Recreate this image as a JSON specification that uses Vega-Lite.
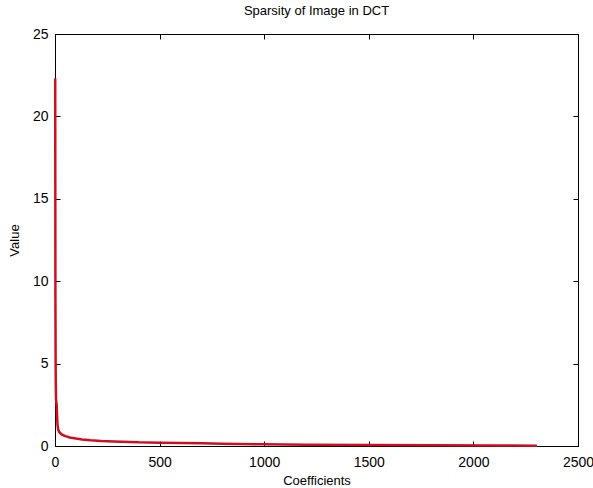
{
  "$schema": "https://vega.github.io/schema/vega-lite/v6.json",
  "autosize": "none",
  "padding": {"left": 55, "top": 34, "right": 15, "bottom": 42},
  "width": 523,
  "height": 412,
  "background": "white",
  "title": {"text": "Sparsity of Image in DCT", "font": "Liberation Sans", "fontSize": 13, "fontWeight": "normal", "color": "#000", "offset": 9},
  "config": {
    "view": {"stroke": "#000", "strokeWidth": 1},
    "axis": {"grid": false, "domain": false, "tickColor": "#000", "tickSize": -5, "labelFont": "Liberation Sans", "labelFontSize": 14, "labelColor": "#000", "titleFont": "Liberation Sans", "titleFontSize": 13, "titleFontWeight": "normal", "titleColor": "#000"}
  },
  "data": {"values": [
    {"c": 1, "v": 22.3}, {"c": 2, "v": 9}, {"c": 3, "v": 5}, {"c": 4, "v": 3.5}, {"c": 5, "v": 2.8},
    {"c": 8, "v": 2.5}, {"c": 10, "v": 1.8}, {"c": 12, "v": 1.3}, {"c": 15, "v": 1.0}, {"c": 20, "v": 0.85},
    {"c": 30, "v": 0.72}, {"c": 40, "v": 0.65}, {"c": 50, "v": 0.6}, {"c": 70, "v": 0.52}, {"c": 100, "v": 0.45},
    {"c": 130, "v": 0.4}, {"c": 170, "v": 0.35}, {"c": 220, "v": 0.31}, {"c": 280, "v": 0.28}, {"c": 320, "v": 0.26},
    {"c": 400, "v": 0.22}, {"c": 500, "v": 0.2}, {"c": 600, "v": 0.18}, {"c": 700, "v": 0.16}, {"c": 800, "v": 0.13},
    {"c": 1000, "v": 0.1}, {"c": 1200, "v": 0.08}, {"c": 1500, "v": 0.06}, {"c": 1800, "v": 0.045}, {"c": 2100, "v": 0.03},
    {"c": 2304, "v": 0.02}
  ]},
  "layer": [
    {
      "mark": {"type": "line", "color": "#cc1020", "strokeWidth": 2.5},
      "encoding": {
        "x": {"field": "c", "type": "quantitative", "scale": {"domain": [0, 2500], "nice": false}, "axis": {"title": "Coefficients", "format": "d", "values": [0, 500, 1000, 1500, 2000, 2500], "labelPadding": 14, "titlePadding": 5, "labelFlush": false}},
        "y": {"field": "v", "type": "quantitative", "scale": {"domain": [0, 25], "nice": false}, "axis": {"title": "Value", "format": "d", "values": [0, 5, 10, 15, 20, 25], "labelPadding": 12, "titlePadding": 11, "labelFlush": false}}
      }
    },
    {
      "mark": {"type": "line", "strokeOpacity": 0},
      "encoding": {
        "x": {"field": "c", "type": "quantitative", "scale": {"domain": [0, 2500], "nice": false}, "axis": {"orient": "top", "title": null, "labels": false, "values": [0, 500, 1000, 1500, 2000, 2500]}},
        "y": {"field": "v", "type": "quantitative", "scale": {"domain": [0, 25], "nice": false}, "axis": {"orient": "right", "title": null, "labels": false, "values": [0, 5, 10, 15, 20, 25]}}
      }
    }
  ],
  "resolve": {"axis": {"x": "independent", "y": "independent"}}
}
